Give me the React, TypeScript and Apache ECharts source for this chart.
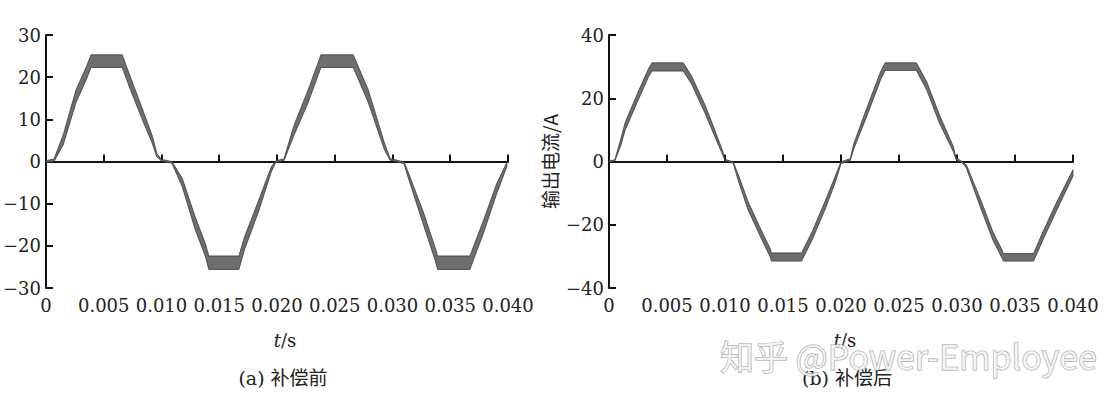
import React, { useEffect, useRef } from "react";
import * as echarts from "echarts";

// Panel (a): before compensation — time (s), band centre (A), ripple half-width (A)
const T_A = [0.0, 0.0007, 0.0015, 0.0026, 0.0035, 0.0039, 0.0066, 0.0073, 0.0083, 0.0092, 0.0096, 0.01, 0.0109, 0.0118, 0.0129, 0.0138, 0.0141, 0.0167, 0.0172, 0.0184, 0.0195, 0.0199, 0.0206, 0.0215, 0.0227, 0.0235, 0.0238, 0.0266, 0.0279, 0.0293, 0.0298, 0.031, 0.0313, 0.0327, 0.0337, 0.0339, 0.0367, 0.0379, 0.039, 0.0399];
const MID_A = [0.0, 0.3, 5.2, 15.5, 21.0, 23.8, 23.8, 18.6, 11.5, 5.2, 1.5, 0.3, -0.2, -5.0, -14.5, -21.0, -24.0, -24.0, -19.3, -10.6, -1.9, 0.0, 0.4, 7.6, 15.5, 21.5, 23.8, 23.8, 15.5, 3.6, 0.5, -0.3, -2.7, -13.7, -22.0, -24.0, -24.0, -15.3, -6.6, -0.7];
const RIP_A = [0.2, 0.3, 1.2, 1.5, 1.5, 1.5, 1.5, 1.5, 1.3, 0.9, 0.4, 0.2, 0.2, 1.0, 1.5, 1.5, 1.6, 1.6, 1.5, 1.3, 0.6, 0.2, 0.2, 1.2, 1.5, 1.5, 1.5, 1.5, 1.5, 0.8, 0.2, 0.2, 0.6, 1.5, 1.5, 1.6, 1.6, 1.5, 1.2, 0.5];

// Panel (b): after compensation
const T_B = [0.0, 0.0005, 0.001, 0.0014, 0.0025, 0.0034, 0.0037, 0.0064, 0.0071, 0.0083, 0.0091, 0.0098, 0.01, 0.0107, 0.0112, 0.012, 0.0132, 0.0139, 0.014, 0.0166, 0.0175, 0.0186, 0.0195, 0.02, 0.0208, 0.0211, 0.0222, 0.0234, 0.0238, 0.0265, 0.0274, 0.0285, 0.0297, 0.0299, 0.0305, 0.0308, 0.032, 0.0331, 0.0339, 0.034, 0.0366, 0.0374, 0.0386, 0.04];
const MID_B = [0.0, 0.3, 5.9, 11.2, 20.6, 28.0, 29.9, 29.9, 25.9, 16.4, 9.1, 2.7, 0.5, -0.3, -5.7, -14.1, -23.6, -28.9, -30.2, -30.2, -23.6, -14.1, -5.7, -0.4, 0.6, 4.8, 15.4, 27.0, 30.0, 30.0, 23.8, 13.3, 3.8, 1.0, -0.4, -1.5, -13.0, -23.6, -29.4, -30.3, -30.3, -23.6, -14.1, -3.6];
const RIP_B = [0.2, 0.2, 1.0, 1.2, 1.3, 1.3, 1.3, 1.3, 1.3, 1.3, 1.0, 0.6, 0.2, 0.2, 1.0, 1.3, 1.3, 1.3, 1.3, 1.3, 1.3, 1.3, 1.0, 0.3, 0.3, 0.8, 1.3, 1.3, 1.2, 1.2, 1.3, 1.3, 0.8, 0.3, 0.2, 0.5, 1.3, 1.3, 1.3, 1.2, 1.2, 1.3, 1.3, 1.0];

const X_MIN = 0;
const X_MAX = 0.04;
const X_STEP = 0.005;
const Y_A = { min: -30, max: 30, step: 10 };
const Y_B = { min: -40, max: 40, step: 20 };

const Y_NAME_B = "输出电流/A";
const X_NAME = "t/s";
const CAPTION_A = "(a) 补偿前";
const CAPTION_B = "(b) 补偿后";
const WATERMARK = "知乎 @Power-Employee";

const SERIF = "DejaVu Serif";

function bandRenderer(T: number[], MID: number[], RIP: number[]) {
  return (params: any, api: any) => {
    if (params.dataIndex !== 0) return null;
    const upper = T.map((t, i) => api.coord([t, MID[i] + RIP[i]]));
    const lower = T.map((t, i) => api.coord([t, MID[i] - RIP[i]])).reverse();
    return {
      type: "polygon",
      shape: { points: upper.concat(lower) },
      style: { fill: "#6e6e6e", stroke: "#3a3a3a", lineWidth: 0.8 },
    };
  };
}

function xAxis(gridIndex: number) {
  return {
    type: "value",
    gridIndex,
    min: X_MIN,
    max: X_MAX,
    interval: X_STEP,
    axisLine: { show: true, lineStyle: { color: "#111", width: 2 } },
    axisTick: { show: true, inside: true, length: 7, lineStyle: { color: "#111", width: 2 } },
    axisLabel: {
      color: "#222",
      fontFamily: SERIF,
      fontSize: 18,
      margin: 8,
      formatter: (v: number) => (Math.abs(v) < 1e-9 ? "0" : v.toFixed(3)),
    },
    splitLine: { show: false },
  };
}

function yAxis(gridIndex: number, cfg: { min: number; max: number; step: number }, name?: string) {
  return {
    type: "value",
    gridIndex,
    min: cfg.min,
    max: cfg.max,
    interval: cfg.step,
    name: name || "",
    nameLocation: "middle",
    nameGap: 50,
    nameTextStyle: { fontFamily: "Noto Sans CJK SC", fontSize: 19, color: "#222" },
    axisLine: { show: true, lineStyle: { color: "#111", width: 2 } },
    axisTick: { show: true, inside: true, length: 7, lineStyle: { color: "#111", width: 2 } },
    axisLabel: {
      color: "#222",
      fontFamily: SERIF,
      fontSize: 18,
      margin: 5,
      formatter: (v: number) => (v < 0 ? "\u2212" + Math.abs(v) : String(v)),
    },
    splitLine: { show: false },
  };
}

export default function App() {
  const ref = useRef<HTMLDivElement>(null);
  useEffect(() => {
    document.body.style.margin = "0";
    const chart = echarts.init(ref.current!, null, { renderer: "svg" });
    chart.setOption({
      animation: false,
      backgroundColor: "#ffffff",
      grid: [
        { left: 43, top: 35, width: 465, height: 253 },
        { left: 609, top: 35, width: 464, height: 253 },
      ],
      xAxis: [xAxis(0), xAxis(1)],
      yAxis: [yAxis(0, Y_A), yAxis(1, Y_B, Y_NAME_B)],
      series: [
        {
          type: "custom",
          xAxisIndex: 0,
          yAxisIndex: 0,
          data: T_A.map((t, i) => [t, MID_A[i]]),
          renderItem: bandRenderer(T_A, MID_A, RIP_A),
        },
        {
          type: "custom",
          xAxisIndex: 1,
          yAxisIndex: 1,
          data: T_B.map((t, i) => [t, MID_B[i]]),
          renderItem: bandRenderer(T_B, MID_B, RIP_B),
        },
      ],
      graphic: [
        {
          type: "text",
          x: 285,
          y: 340,
          style: {
            text: "{i|t}/s",
            rich: { i: { fontStyle: "italic", fontFamily: SERIF, fontSize: 18, fill: "#222" } },
            font: `18px "${SERIF}"`,
            fill: "#222",
            align: "center",
            verticalAlign: "middle",
          },
        },
        {
          type: "text",
          x: 283,
          y: 378,
          style: {
            text: CAPTION_A,
            font: `19px "${SERIF}", "Noto Sans CJK SC"`,
            fill: "#222",
            align: "center",
            verticalAlign: "middle",
          },
        },
        {
          type: "text",
          x: 845,
          y: 340,
          style: {
            text: "{i|t}/s",
            rich: { i: { fontStyle: "italic", fontFamily: SERIF, fontSize: 18, fill: "#222" } },
            font: `18px "${SERIF}"`,
            fill: "#222",
            align: "center",
            verticalAlign: "middle",
          },
        },
        {
          type: "text",
          x: 847,
          y: 378,
          style: {
            text: CAPTION_B,
            font: `19px "${SERIF}", "Noto Sans CJK SC"`,
            fill: "#222",
            align: "center",
            verticalAlign: "middle",
          },
        },
        {
          type: "text",
          x: 720,
          y: 355,
          z: 100,
          style: {
            text: WATERMARK,
            font: `34px "Noto Sans CJK SC", "Noto Sans"`,
            fill: "rgba(245,245,245,0.85)",
            stroke: "#9a9a9a",
            lineWidth: 1,
            align: "left",
            verticalAlign: "middle",
          },
        },
      ],
    });
    return () => chart.dispose();
  }, []);
  return <div ref={ref} style={{ width: 1115, height: 403 }} />;
}
